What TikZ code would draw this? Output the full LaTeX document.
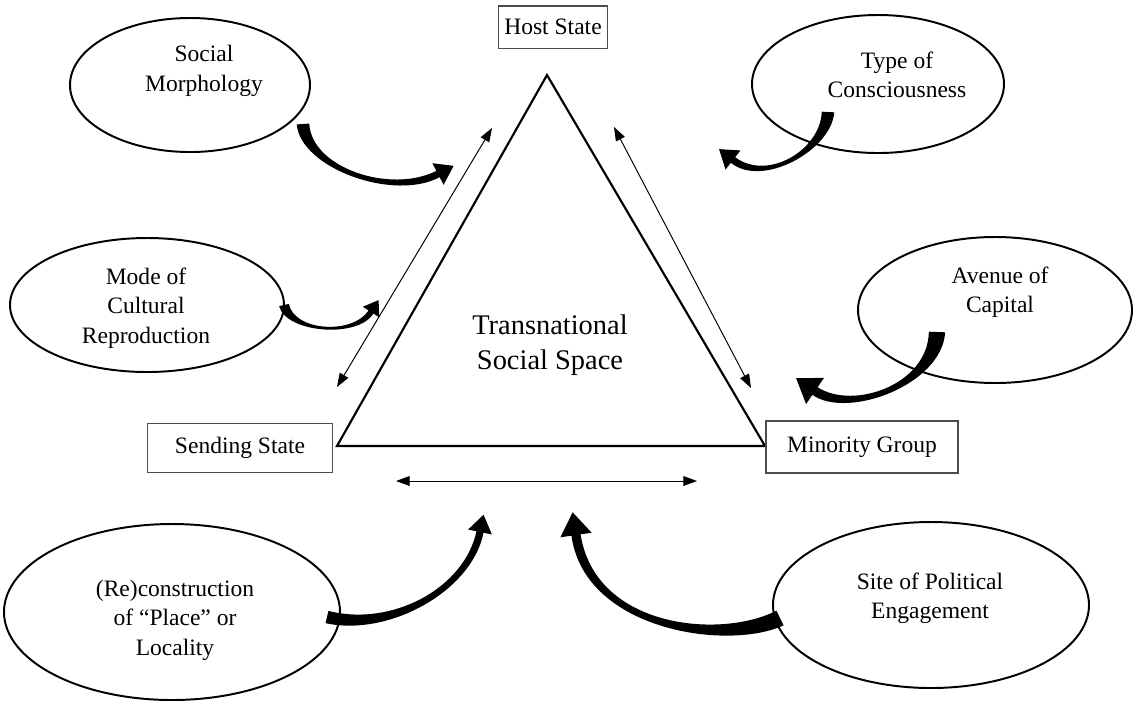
\documentclass[tikz,border=0pt]{standalone}
\usepackage{fontspec}
\setmainfont{Liberation Serif}
\usetikzlibrary{calc,shapes.geometric,arrows.meta}
% thick tapering bent arrow: scale, tail, control 1, control 2, head base
\newcommand{\bentarrow}[5]{%
\pgfmathsetlengthmacro{\wa}{#1*3.2pt}\pgfmathsetlengthmacro{\wb}{#1*2.7pt}%
\pgfmathsetlengthmacro{\wc}{#1*2.2pt}\pgfmathsetlengthmacro{\wd}{#1*1.8pt}%
\pgfmathsetlengthmacro{\hw}{#1*6.2pt}\pgfmathsetlengthmacro{\hl}{#1*9pt}%
\fill ($(#2)!\wa!90:(#3)$) .. controls ($(#3)!\wb!-90:(#2)$) and ($(#4)!\wc!90:(#5)$) .. ($(#5)!\wd!-90:(#4)$)
 -- ($(#5)!\hw!-90:(#4)$) -- ($(#5)!-\hl!(#4)$) -- ($(#5)!\hw!90:(#4)$) -- ($(#5)!\wd!90:(#4)$)
 .. controls ($(#4)!\wc!-90:(#5)$) and ($(#3)!\wb!90:(#2)$) .. ($(#2)!\wa!-90:(#3)$) -- cycle;}
\begin{document}
\begin{tikzpicture}[x=0.51pt,y=-0.51pt,
  bubble/.style={draw,ellipse,line width=1pt,inner sep=0pt},
  caption/.style={align=center,font=\fontsize{12}{15}\selectfont},
  statebox/.style={draw=black!70,line width=0.6pt,font=\fontsize{12}{15}\selectfont,inner sep=0pt},
  link/.style={<->,>={Triangle[length=7pt,width=5pt]},line width=0.5pt}]
\useasboundingbox (0,0) rectangle (1137,709);
% corners of the triangle
\coordinate (host) at (547,75);
\coordinate (send) at (337,446);
\coordinate (minor) at (765,446);
\draw[line width=1.1pt] (host)--(send)--(minor)--cycle;
\node[align=center,font=\fontsize{14.5}{17.5}\selectfont] (tss) at (550,345) {Transnational\\Social Space};
% state boxes
\node[statebox,minimum width=56pt,minimum height=21.5pt] (hostbox) at (553,27) {Host State};
\node[statebox,minimum width=94pt,minimum height=25pt] (sendbox) at (240,448) {Sending State};
\node[statebox,minimum width=98pt,minimum height=26.5pt] (minorbox) at (862,447) {Minority Group};
% ellipses and their texts
\foreach \n/\cx/\cy/\rx/\ry/\tx/\ty/\txt in {
  morph/190/85/120/67/204/71/{Social\\Morphology},
  conscious/878/84/126/69/897/75/{Type of\\Consciousness},
  mode/147/305/137/67/146/308/{Mode of\\Cultural\\Reproduction},
  avenue/995/310/137/73/1000/292/{Avenue of\\Capital},
  place/172/612/168/88/175/620/{(Re)construction\\of “Place” or\\Locality},
  site/931/605/158/83/930/598/{Site of Political\\Engagement}}{
  \node[bubble,minimum width=2*\rx*0.51pt,minimum height=2*\ry*0.51pt] (\n) at (\cx,\cy) {};
  \node[caption] (\n-text) at (\tx,\ty) {\txt};
}
% thin double arrows along the sides
\coordinate (l1) at (337,387); \coordinate (l2) at (492,128);
\coordinate (r1) at (614,127); \coordinate (r2) at (751,388);
\coordinate (b1) at (396,481); \coordinate (b2) at (697,481);
\draw[link] (l1)--(l2);
\draw[link] (r1)--(r2);
\draw[link] (b1)--(b2);
% bent arrows
\bentarrow{1}{303,124}{306,168}{392,198}{438,174}
\bentarrow{0.8}{284,305}{290,332}{355,337}{371,312}
\bentarrow{1}{828,112}{826,150}{765,185}{733,160}
\bentarrow{1.3}{937,332}{935,385}{850,415}{815,391}
\bentarrow{1}{327,617}{390,632}{468,590}{480,532}
\bentarrow{1.3}{780,618}{725,645}{590,630}{576,535}
\end{tikzpicture}
\end{document}
